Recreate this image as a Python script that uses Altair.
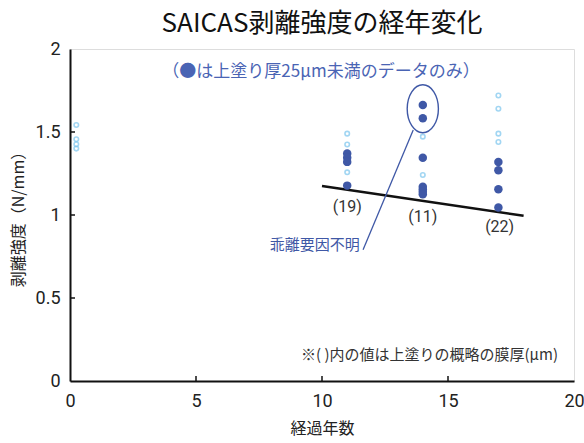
import altair as alt
import pandas as pd

# Peel strength (N/mm) by years elapsed
filled_x = [11, 11, 11, 11,
            14, 14, 14, 14, 14, 14, 14,
            17, 17, 17, 17]
filled_y = [1.37, 1.345, 1.32, 1.177,
            1.663, 1.583, 1.345, 1.17, 1.155, 1.14, 1.125,
            1.32, 1.27, 1.155, 1.045]

hollow_x = [0.25, 0.25, 0.25, 0.25,
            11, 11, 11,
            14, 14,
            17, 17, 17, 17]
hollow_y = [1.542, 1.456, 1.426, 1.40,
            1.49, 1.425, 1.257,
            1.472, 1.241,
            1.72, 1.64, 1.49, 1.44]

# Trend line
trend_x = [10, 18]
trend_y = [1.175, 0.995]

# Topcoat thickness labels (μm)
thick_labels = ["(19)", "(11)", "(22)"]
thick_x = [11, 14, 17.05]
thick_y = [1.048, 0.988, 0.928]

# Outlier marker and callout
ellipse_x = [14]
ellipse_y = [1.64]
callout_x = [13.62, 11.63]
callout_y = [1.512, 0.79]
callout_text = ["乖離要因不明"]
callout_tx = [11.5]
callout_ty = [0.82]

subtitle = ["（●は上塗り厚25μm未満のデータのみ）"]
note = ["※( )内の値は上塗りの概略の膜厚(μm)"]

x_ticks = [0, 5, 10, 15, 20]
y_ticks = [0, 0.5, 1, 1.5, 2]

W, H = 504, 332
DARK = "#3f58a6"
SUBC = "#4a64b4"
LIGHT = "#7cc6ee"
JP = "Noto Sans CJK JP"
NUM = "Roboto"

xs = alt.Scale(domain=[0, 20], nice=False, zero=False)
ys = alt.Scale(domain=[0, 2], nice=False)

x_axis = alt.Axis(values=x_ticks, ticks=False, grid=False, labelFont=NUM,
                  labelFontSize=18, labelColor="#222", labelPadding=11,
                  format="~g", labelFlush=False,
                  domainColor="#111", domainWidth=2, title="経過年数",
                  titleFont=JP, titleFontSize=16, titleFontWeight="normal",
                  titleColor="#222", titleY=47, titleBaseline="middle")
y_axis = alt.Axis(values=y_ticks, ticks=False, grid=False, labelFont=NUM,
                  labelFontSize=18, labelColor="#222", labelPadding=10,
                  labelFlush=False, format="~g",
                  domainColor="#111", domainWidth=2, title="剥離強度（N/mm）",
                  titleFont=JP, titleFontSize=16, titleFontWeight="normal",
                  titleColor="#222", titleX=-52, titleY=H / 2,
                  titleAngle=-90, titleAlign="center", titleBaseline="middle")

filled_df = pd.DataFrame({"x": filled_x, "y": filled_y})
hollow_df = pd.DataFrame({"x": hollow_x, "y": hollow_y})
trend_df = pd.DataFrame({"x": trend_x, "y": trend_y})
thick_df = pd.DataFrame({"x": thick_x, "y": thick_y, "t": thick_labels})
ell_df = pd.DataFrame({"x": ellipse_x, "y": ellipse_y})
call_df = pd.DataFrame({"x": callout_x, "y": callout_y})
ctext_df = pd.DataFrame({"x": callout_tx, "y": callout_ty, "t": callout_text})
sub_df = pd.DataFrame({"t": subtitle})
note_df = pd.DataFrame({"t": note})
xt_df = pd.DataFrame({"v": x_ticks[1:-1]})
yt_df = pd.DataFrame({"v": y_ticks[1:-1]})

base_axes = alt.Chart(filled_df).mark_point(opacity=0).encode(
    x=alt.X("x:Q", scale=xs, axis=x_axis),
    y=alt.Y("y:Q", scale=ys, axis=y_axis),
)

# inward tick marks
xticks = alt.Chart(xt_df).mark_rule(color="#111", strokeWidth=1.5).encode(
    x=alt.X("v:Q", scale=xs), y=alt.value(H), y2=alt.value(H - 5))
yticks = alt.Chart(yt_df).mark_rule(color="#111", strokeWidth=1.5).encode(
    y=alt.Y("v:Q", scale=ys), x=alt.value(0), x2=alt.value(5))

hollow = alt.Chart(hollow_df).mark_point(
    shape="circle", filled=False, color=LIGHT, size=20, strokeWidth=1.6
).encode(x=alt.X("x:Q", scale=xs), y=alt.Y("y:Q", scale=ys))

filled = alt.Chart(filled_df).mark_point(
    shape="circle", filled=True, color=DARK, size=72, opacity=1
).encode(x=alt.X("x:Q", scale=xs), y=alt.Y("y:Q", scale=ys))

trend = alt.Chart(trend_df).mark_line(color="#111", strokeWidth=2.5).encode(
    x=alt.X("x:Q", scale=xs), y=alt.Y("y:Q", scale=ys))

thick = alt.Chart(thick_df).mark_text(
    font=NUM, fontSize=16, color="#333", align="center", baseline="middle"
).encode(x=alt.X("x:Q", scale=xs), y=alt.Y("y:Q", scale=ys), text="t:N")

ellipse = alt.Chart(ell_df).mark_point(
    shape="M 0 -1 A 0.65 1 0 1 1 0 1 A 0.65 1 0 1 1 0 -1 Z",
    filled=False, color=DARK, size=2304, strokeWidth=1.4, opacity=1
).encode(x=alt.X("x:Q", scale=xs), y=alt.Y("y:Q", scale=ys))

callout = alt.Chart(call_df).mark_line(color=DARK, strokeWidth=1.3).encode(
    x=alt.X("x:Q", scale=xs), y=alt.Y("y:Q", scale=ys))

ctext = alt.Chart(ctext_df).mark_text(
    font=JP, fontSize=15, color=DARK, align="right", baseline="middle"
).encode(x=alt.X("x:Q", scale=xs), y=alt.Y("y:Q", scale=ys), text="t:N")

sub = alt.Chart(sub_df).mark_text(
    font=JP, fontSize=17, color=SUBC, align="center", baseline="middle"
).encode(x=alt.value(251), y=alt.value(23), text="t:N")

note_txt = alt.Chart(note_df).mark_text(
    font=JP, fontSize=15, color="#333", align="right", baseline="middle"
).encode(x=alt.value(488), y=alt.value(306), text="t:N")

chart = alt.layer(
    base_axes, xticks, yticks, trend, hollow, filled, ellipse, callout,
    ctext, thick, sub, note_txt
).properties(
    width=W, height=H,
    title=alt.TitleParams("SAICAS剥離強度の経年変化", font=JP, fontSize=26,
                          fontWeight="normal", color="#111", anchor="middle",
                          offset=3),
    autosize=alt.AutoSizeParams(type="none"),
    padding={"left": 70, "top": 49, "right": 10, "bottom": 62},
).configure_view(stroke="#333", strokeWidth=1.5).configure(background="white")

chart.save("out.html", embed_options={"renderer": "svg", "actions": False})
